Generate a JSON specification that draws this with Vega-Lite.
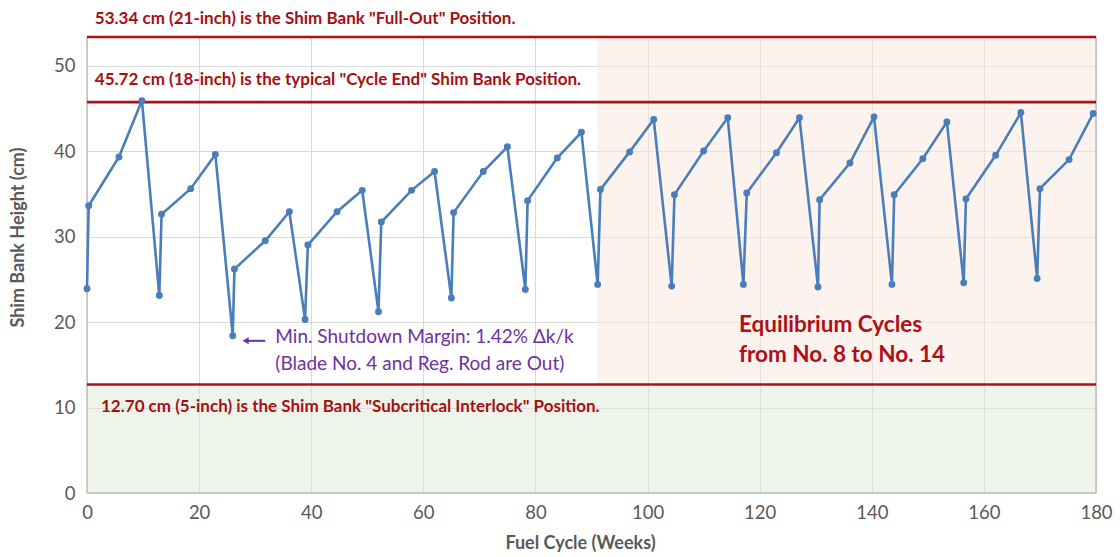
{
  "$schema": "https://vega.github.io/schema/vega-lite/v6.json",
  "autosize": "none",
  "width": 1009,
  "height": 456,
  "padding": {"left": 87, "top": 37, "right": 24, "bottom": 64},
  "background": "white",
  "config": {
    "view": {"stroke": null},
    "font": "Lato",
    "axis": {
      "labelFont": "Lato", "titleFont": "Lato",
      "labelColor": "#595959", "titleColor": "#595959",
      "labelFontSize": 18.5, "titleFontSize": 18, "titleFontWeight": "bold",
      "gridColor": "#d9d9d9", "gridWidth": 1, "ticks": false, "domain": false
    }
  },
  "layer": [
    {
      "data": {"values": [
        {"x1": 91, "x2": 180, "y1": 12.7, "y2": 53.34, "zone": "equilibrium"}
      ]},
      "mark": {"type": "rect", "fill": "#f9e7dd", "opacity": 0.5},
      "encoding": {
        "x": {"field": "x1", "type": "quantitative", "scale": {"domain": [0, 180], "nice": false},
              "axis": {"title": "Fuel Cycle (Weeks)", "values": [0,20,40,60,80,100,120,140,160,180], "labelFlush": false, "labelPadding": 10, "titlePadding": 13, "titleX": 493}},
        "x2": {"field": "x2"},
        "y": {"field": "y1", "type": "quantitative", "scale": {"domain": [0, 53.34], "nice": false, "zero": true},
              "axis": {"title": "Shim Bank Height (cm)", "values": [0,10,20,30,40,50], "labelPadding": 12, "titlePadding": 26, "titleY": 200}},
        "y2": {"field": "y2"}
      }
    },
    {
      "data": {"values": [
        {"x1": 0, "x2": 180, "y1": 0, "y2": 12.7, "zone": "subcritical"}
      ]},
      "mark": {"type": "rect", "fill": "#dfe9d5", "opacity": 0.5},
      "encoding": {
        "x": {"field": "x1", "type": "quantitative"},
        "x2": {"field": "x2"},
        "y": {"field": "y1", "type": "quantitative"},
        "y2": {"field": "y2"}
      }
    },
    {
      "data": {"values": [{"x": 0}, {"x": 180}]},
      "mark": {"type": "rule", "color": "#bfbfbf", "strokeWidth": 1.5},
      "encoding": {"x": {"field": "x", "type": "quantitative"}}
    },
    {
      "data": {"values": [{"y": 0}]},
      "mark": {"type": "rule", "color": "#bfbfbf", "strokeWidth": 1.5},
      "encoding": {"y": {"field": "y", "type": "quantitative"}}
    },
    {
      "data": {"values": [{"limit": 53.34}, {"limit": 45.72}, {"limit": 12.7}]},
      "mark": {"type": "rule", "color": "#b00f16", "strokeWidth": 2.6},
      "encoding": {"y": {"field": "limit", "type": "quantitative"}}
    },
    {
      "data": {"values": [
        {"week": 0, "height": 23.9}, {"week": 0.3, "height": 33.6}, {"week": 5.7, "height": 39.3}, {"week": 9.8, "height": 45.9},
        {"week": 12.9, "height": 23.1}, {"week": 13.3, "height": 32.6}, {"week": 18.5, "height": 35.6}, {"week": 22.9, "height": 39.6},
        {"week": 26.0, "height": 18.4}, {"week": 26.3, "height": 26.2}, {"week": 31.8, "height": 29.5}, {"week": 36.1, "height": 32.9},
        {"week": 38.9, "height": 20.3}, {"week": 39.4, "height": 29.0}, {"week": 44.6, "height": 32.9}, {"week": 49.1, "height": 35.4},
        {"week": 52.0, "height": 21.2}, {"week": 52.5, "height": 31.7}, {"week": 57.9, "height": 35.4}, {"week": 62.0, "height": 37.6},
        {"week": 65.0, "height": 22.8}, {"week": 65.4, "height": 32.8}, {"week": 70.7, "height": 37.6}, {"week": 75.0, "height": 40.5},
        {"week": 78.2, "height": 23.8}, {"week": 78.6, "height": 34.2}, {"week": 83.9, "height": 39.2}, {"week": 88.2, "height": 42.2},
        {"week": 91.1, "height": 24.4}, {"week": 91.6, "height": 35.5}, {"week": 96.8, "height": 39.9}, {"week": 101.1, "height": 43.7},
        {"week": 104.3, "height": 24.2}, {"week": 104.8, "height": 34.9}, {"week": 110.0, "height": 40.0}, {"week": 114.3, "height": 43.9},
        {"week": 117.1, "height": 24.4}, {"week": 117.7, "height": 35.1}, {"week": 123.0, "height": 39.8}, {"week": 127.1, "height": 43.9},
        {"week": 130.4, "height": 24.1}, {"week": 130.7, "height": 34.3}, {"week": 136.1, "height": 38.6}, {"week": 140.4, "height": 44.0},
        {"week": 143.6, "height": 24.4}, {"week": 144.0, "height": 34.9}, {"week": 149.1, "height": 39.1}, {"week": 153.4, "height": 43.4},
        {"week": 156.4, "height": 24.6}, {"week": 156.8, "height": 34.4}, {"week": 162.1, "height": 39.5}, {"week": 166.6, "height": 44.5},
        {"week": 169.5, "height": 25.1}, {"week": 170.0, "height": 35.6}, {"week": 175.2, "height": 39.0}, {"week": 179.5, "height": 44.4}
      ]},
      "mark": {"type": "line", "color": "#4a7ebb", "strokeWidth": 2.6, "point": {"filled": true, "size": 48, "color": "#4a7ebb"}},
      "encoding": {
        "x": {"field": "week", "type": "quantitative", "sort": null},
        "y": {"field": "height", "type": "quantitative"},
        "order": {"field": "week", "type": "quantitative"}
      }
    },
    {
      "data": {"values": [
        {"x": 1.4, "y": 55.4, "text": "53.34 cm (21-inch) is the Shim Bank \"Full-Out\" Position."},
        {"x": 1.4, "y": 48.3, "text": "45.72 cm (18-inch) is the typical \"Cycle End\" Shim Bank Position."},
        {"x": 2.5, "y": 10.1, "text": "12.70 cm (5-inch) is the Shim Bank \"Subcritical Interlock\" Position."}
      ]},
      "mark": {"type": "text", "align": "left", "baseline": "middle", "font": "Lato", "fontWeight": "bold", "fontSize": 17, "color": "#a50f15"},
      "encoding": {
        "x": {"field": "x", "type": "quantitative"},
        "y": {"field": "y", "type": "quantitative"},
        "text": {"field": "text"}
      }
    },
    {
      "data": {"values": [
        {"x": 116.3, "y": 19.6, "text": "Equilibrium Cycles"},
        {"x": 116.3, "y": 16.2, "text": "from No. 8 to No. 14"}
      ]},
      "mark": {"type": "text", "align": "left", "baseline": "middle", "font": "Lato", "fontWeight": "bold", "fontSize": 22.5, "color": "#b00f16"},
      "encoding": {
        "x": {"field": "x", "type": "quantitative"},
        "y": {"field": "y", "type": "quantitative"},
        "text": {"field": "text"}
      }
    },
    {
      "data": {"values": [
        {"x": 33.6, "y": 18.2, "text": "Min. Shutdown Margin: 1.42% Δk/k"},
        {"x": 33.6, "y": 15.1, "text": "(Blade No. 4 and Reg. Rod are Out)"}
      ]},
      "mark": {"type": "text", "align": "left", "baseline": "middle", "font": "Lato", "fontSize": 19, "color": "#7030a0"},
      "encoding": {
        "x": {"field": "x", "type": "quantitative"},
        "y": {"field": "y", "type": "quantitative"},
        "text": {"field": "text"}
      }
    },
    {
      "data": {"values": [{"x": 28.6, "x2": 31.8, "y": 17.8}]},
      "mark": {"type": "rule", "color": "#7030a0", "strokeWidth": 2},
      "encoding": {
        "x": {"field": "x", "type": "quantitative"},
        "x2": {"field": "x2"},
        "y": {"field": "y", "type": "quantitative"}
      }
    },
    {
      "data": {"values": [{"x": 28.3, "y": 17.8}]},
      "mark": {"type": "point", "shape": "triangle-left", "filled": true, "size": 50, "color": "#7030a0", "opacity": 1},
      "encoding": {
        "x": {"field": "x", "type": "quantitative"},
        "y": {"field": "y", "type": "quantitative"}
      }
    }
  ]
}
